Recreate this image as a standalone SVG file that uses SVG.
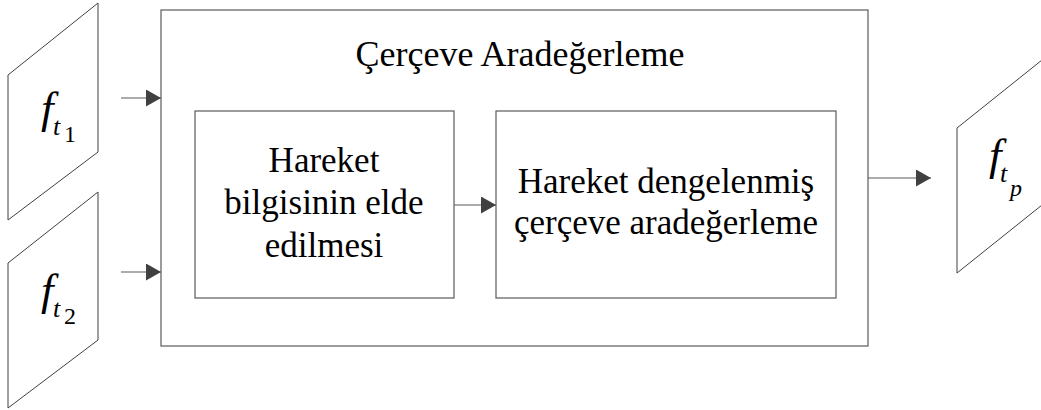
<svg xmlns="http://www.w3.org/2000/svg" width="1041" height="410" viewBox="0 0 1041 410">
<style>
.box{fill:#fff;stroke:#5a5a5a;stroke-width:1.2}
.para{fill:#fff;stroke:#404040;stroke-width:1}
.lbl{font-family:"Liberation Serif",serif;font-size:35px;fill:#000;text-anchor:middle}
.ttl{font-size:36px}
.math{font-family:"Liberation Serif",serif;fill:#000}
.conn{stroke:#5a5a5a;stroke-width:1.2;fill:none;marker-end:url(#ah)}
</style>
<defs>
<marker id="ah" markerUnits="userSpaceOnUse" markerWidth="16" markerHeight="18" refX="15" refY="8.5" orient="auto">
<path d="M0,0 L15,8.5 L0,17 Z" fill="#404040"/>
</marker>
</defs>
<g id="input1">
<polygon class="para" points="8,75 98,3 98,152 8,220"/>
<text class="math" x="41" y="123"><tspan font-style="italic" font-size="45">f</tspan><tspan font-style="italic" font-size="26" x="53" y="135">t</tspan><tspan font-size="24" x="64" y="142">1</tspan></text>
</g>
<g id="input2">
<polygon class="para" points="8,263 98,192 98,340 8,408"/>
<text class="math" x="41" y="305"><tspan font-style="italic" font-size="45">f</tspan><tspan font-style="italic" font-size="26" x="53" y="317">t</tspan><tspan font-size="24" x="64" y="324">2</tspan></text>
</g>
<g id="frame-interp">
<rect class="box" x="161" y="10" width="707" height="336"/>
<text class="lbl ttl" x="520" y="66">Çerçeve Aradeğerleme</text>
</g>
<g id="motion-info">
<rect class="box" x="195" y="111" width="259" height="187"/>
<text class="lbl" x="324" y="172">Hareket</text>
<text class="lbl" x="324" y="214">bilgisinin elde</text>
<text class="lbl" x="324" y="257">edilmesi</text>
</g>
<g id="mc-interp">
<rect class="box" x="496" y="111" width="340" height="187"/>
<text class="lbl" x="666" y="193">Hareket dengelenmiş</text>
<text class="lbl" x="666" y="234">çerçeve aradeğerleme</text>
</g>
<g id="output">
<polygon class="para" points="957,128 1047,56 1047,201 957,273"/>
<text class="math" x="989" y="170"><tspan font-style="italic" font-size="45">f</tspan><tspan font-style="italic" font-size="26" x="1000" y="182">t</tspan><tspan font-style="italic" font-size="24" x="1010" y="196">p</tspan></text>
</g>
<g id="connectors">
<line class="conn" x1="121" y1="98" x2="161" y2="98"/>
<line class="conn" x1="121" y1="272" x2="161" y2="272"/>
<line class="conn" x1="454" y1="205" x2="496" y2="205"/>
<line class="conn" x1="868" y1="178" x2="931" y2="178"/>
</g>
</svg>
